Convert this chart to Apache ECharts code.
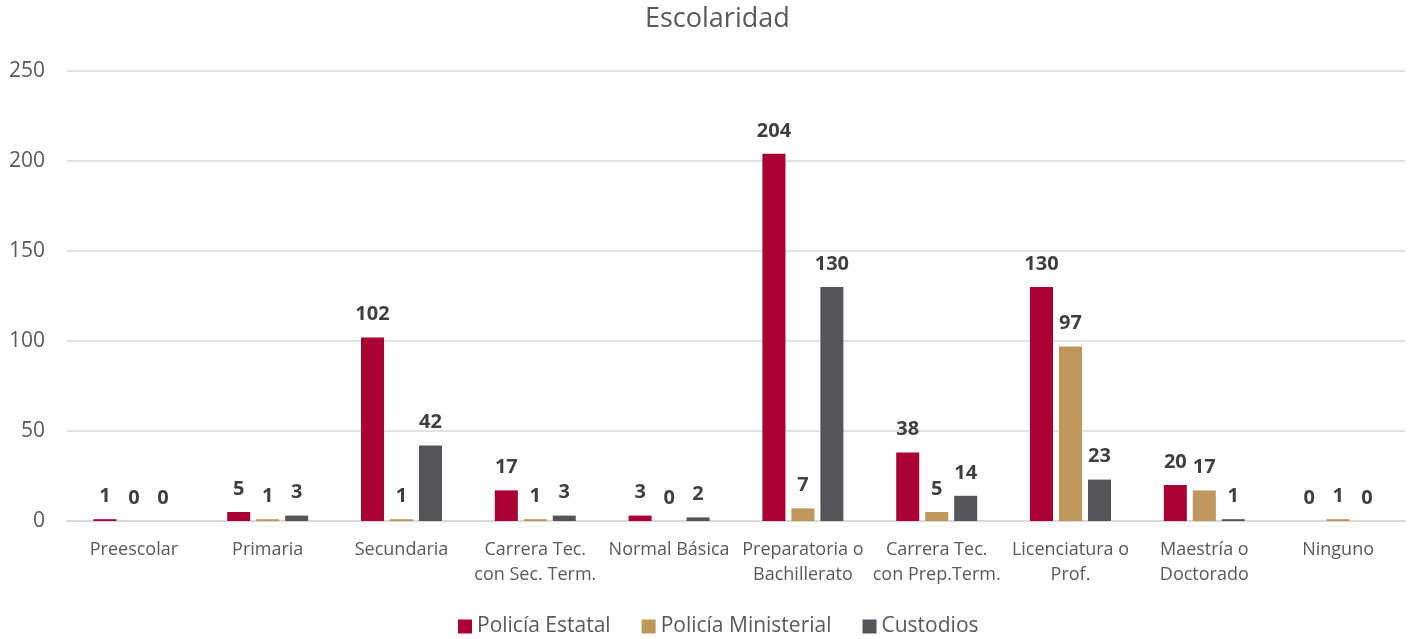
<!DOCTYPE html>
<html>
<head>
<meta charset="utf-8">
<script src="https://cdn.jsdelivr.net/npm/echarts@6/dist/echarts.min.js"></script>
<style>
	html, body { margin: 0; padding: 0; background: #fff; }
	#chart { width: 1409px; height: 639px; }
</style>
</head>
<body>
<div id="chart"></div>
<script>
// categorias
const categories = [
	"Preescolar", "Primaria", "Secundaria", "Carrera Tec.\ncon Sec. Term.", "Normal Básica",
	"Preparatoria o\nBachillerato", "Carrera Tec.\ncon Prep.Term.", "Licenciatura o\nProf.",
	"Maestría o\nDoctorado", "Ninguno"
];
const policiaEstatal = [1, 5, 102, 17, 3, 204, 38, 130, 20, 0];
const policiaMinisterial = [0, 1, 1, 1, 0, 7, 5, 97, 17, 1];
const custodios = [0, 3, 42, 3, 2, 130, 14, 23, 1, 0];
const yTicks = [0, 50, 100, 150, 200, 250];

const font = "'Open Sans', Lato, sans-serif";

function barSerie(name, data, color) {
	return {
		name: name,
		type: "bar",
		data: data,
		barWidth: 23,
		barGap: "26%",
		itemStyle: { color: color },
		label: {
			show: true,
			position: "top",
			distance: 13,
			color: "#404040",
			fontWeight: "bold",
			fontSize: 20,
			fontFamily: font,
		},
	};
}

const myecharts = echarts.init(document.getElementById("chart"));
myecharts.setOption({
	animation: false,
	title: {
		text: "Escolaridad",
		left: 640,
		top: 1,
		textStyle: { color: "#595959", fontSize: 27, fontWeight: "normal", fontFamily: font },
	},
	legend: {
		bottom: -3,
		left: 453,
		itemWidth: 14,
		itemHeight: 14,
		itemGap: 31,
		icon: "rect",
		textStyle: { color: "#595959", fontSize: 21, fontFamily: font },
	},
	grid: { left: 67, right: 4, top: 71, bottom: 118 },
	xAxis: {
		type: "category",
		data: categories,
		axisTick: { show: false },
		axisLine: { lineStyle: { color: "#d9d9d9", width: 2 } },
		axisLabel: {
			color: "#595959",
			fontSize: 18,
			fontFamily: font,
			lineHeight: 25,
			margin: 16,
			interval: 0,
		},
	},
	yAxis: {
		type: "value",
		min: yTicks[0],
		max: yTicks[yTicks.length - 1],
		interval: 50,
		axisLine: { show: false },
		axisTick: { show: false },
		splitLine: { lineStyle: { color: "#d9d9d9", width: 1.5 } },
		axisLabel: { color: "#595959", fontSize: 21, fontFamily: font, margin: 22 },
	},
	series: [
		barSerie("Policía Estatal", policiaEstatal, "#AB0033"),
		barSerie("Policía Ministerial", policiaMinisterial, "#C0975B"),
		barSerie("Custodios", custodios, "#545459"),
	],
});
</script>
</body>
</html>
